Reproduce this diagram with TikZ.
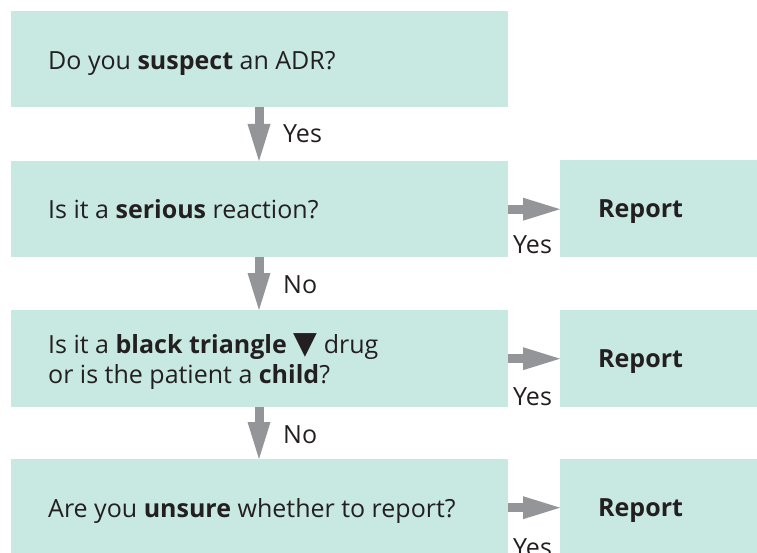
\documentclass[tikz,border=0pt]{standalone}
\usepackage{fontspec}
\setmainfont{Open Sans}
\newfontfamily\symfont{DejaVu Sans}
\usetikzlibrary{arrows.meta}
\definecolor{boxfill}{HTML}{C8E8E2}
\definecolor{arrgray}{HTML}{939598}
\definecolor{txt}{HTML}{231F20}
\begin{document}
\begin{tikzpicture}[x=1pt,y=-1pt,
  box/.style={fill=boxfill, draw=none, inner sep=0pt, anchor=north west, minimum height=97pt},
  lbox/.style={box, minimum width=497pt},
  rbox/.style={box, minimum width=197pt},
  lab/.style={anchor=base west, inner sep=0pt, text=txt, font=\fontsize{25}{30}\selectfont},
  rep/.style={lab, font=\fontsize{25}{30}\selectfont\bfseries},
  arr/.style={draw=arrgray, line width=9pt, -{Triangle[length=37pt,width=23pt,line width=0pt]}}]
\useasboundingbox (0,0) rectangle (757,553);
\clip (0,0) rectangle (757,553);
% boxes
\node[lbox, minimum height=96pt] (b1) at (11,11) {};
\node[lbox, minimum height=96pt] (b2) at (11,161) {};
\node[lbox] (b3) at (11,310) {};
\node[lbox] (b4) at (11,459) {};
\node[rbox] (r2) at (560,160) {};
\node[rbox] (r3) at (560,310) {};
\node[rbox] (r4) at (560,459) {};
% texts
\node[lab] (t1) at (48,70) {Do you \textbf{suspect} an ADR?};
\node[lab] (t2) at (48,219) {Is it a \textbf{serious} reaction?};
\node[lab] (t3a) at (48,353) {Is it a \textbf{black triangle {\symfont\fontsize{31}{30}\selectfont ▼}} drug};
\node[lab] (t3b) at (48,383) {or is the patient a \textbf{child}?};
\node[lab] (t4) at (48,517) {Are you \textbf{unsure} whether to report?};
\node[rep] (p2) at (598,218) {Report};
\node[rep] (p3) at (598,367) {Report};
\node[rep] (p4) at (598,516) {Report};
% arrows
\coordinate (xa) at (259,0);
\draw[arr] (b1.south -| xa) -- (b2.north -| xa);
\draw[arr] (b2.south -| xa) -- (b3.north -| xa);
\draw[arr] (b3.south -| xa) -- (b4.north -| xa);
\draw[arr] (b2.east) -- (b2.east -| r2.west);
\draw[arr] (b3.east) -- (b3.east -| r3.west);
\draw[arr] (b4.east) -- (b4.east -| r4.west);
% labels
\node[lab] (y1) at (283,143) {Yes};
\node[lab] (n1) at (283,293) {No};
\node[lab] (n2) at (283,443) {No};
\node[lab] (y2) at (513,254) {Yes};
\node[lab] (y3) at (513,405) {Yes};
\node[lab] (y4) at (513,556) {Yes};
\end{tikzpicture}
\end{document}
